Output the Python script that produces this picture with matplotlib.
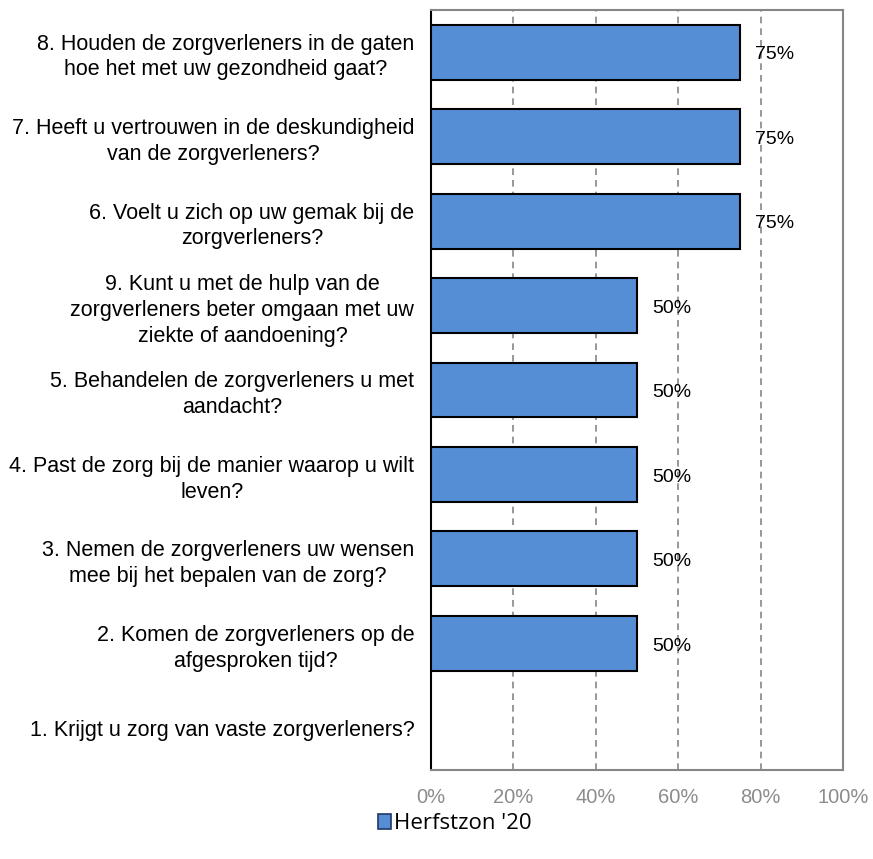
import matplotlib
matplotlib.use('Agg')
import matplotlib.pyplot as plt
from matplotlib.patches import Patch
from matplotlib.ticker import FuncFormatter

# Questions from top to bottom, with share of positive answers
questions = [
    "8. Houden de zorgverleners in de gaten\nhoe het met uw gezondheid gaat?",
    "7. Heeft u vertrouwen in de deskundigheid\nvan de zorgverleners?",
    "6. Voelt u zich op uw gemak bij de\nzorgverleners?",
    "9. Kunt u met de hulp van de\nzorgverleners beter omgaan met uw\nziekte of aandoening?",
    "5. Behandelen de zorgverleners u met\naandacht?",
    "4. Past de zorg bij de manier waarop u wilt\nleven?",
    "3. Nemen de zorgverleners uw wensen\nmee bij het bepalen van de zorg?",
    "2. Komen de zorgverleners op de\nafgesproken tijd?",
    "1. Krijgt u zorg van vaste zorgverleners?",
]
scores = [75, 75, 75, 50, 50, 50, 50, 50, None]
series_name = "Herfstzon '20"
x_ticks = [0, 20, 40, 60, 80, 100]

BAR_COLOR = '#558ED5'
GRID_COLOR = '#868686'

plt.rcParams['font.family'] = ['Liberation Sans', 'DejaVu Sans']

fig = plt.figure(figsize=(8.73, 8.59), dpi=100)
ax = fig.add_axes([0.4937, 0.1036, 0.472, 0.8848])

n = len(questions)
ypos = list(range(n))[::-1]
for y, v in zip(ypos, scores):
    if v is None:
        continue
    ax.barh(y, v, height=0.65, color=BAR_COLOR, edgecolor='black', linewidth=1.5, zorder=3)
    ax.annotate(f"{v}%", xy=(v, y), xytext=(11, -2), textcoords='offset points',
                va='center', ha='left', fontsize=14, color='black', zorder=4)

ax.set_xlim(0, 100)
ax.set_ylim(-0.5, n - 0.5)
ax.set_xticks(x_ticks)
ax.xaxis.set_major_formatter(FuncFormatter(lambda v, _: f"{v:.0f}%"))
ax.tick_params(axis='x', length=0, pad=13, labelsize=14.5, labelcolor='#8c8c8c')
ax.set_yticks(ypos)
ax.set_yticklabels(questions, fontsize=15.5, linespacing=1.3, multialignment='center')
ax.tick_params(axis='y', length=0, pad=12)

ax.grid(axis='x', linestyle=(0, (4, 3)), color=GRID_COLOR, linewidth=1.2, zorder=0)
for side in ('top', 'right', 'bottom'):
    ax.spines[side].set_color(GRID_COLOR)
    ax.spines[side].set_linewidth(1.5)
ax.spines['left'].set_color('black')
ax.spines['left'].set_linewidth(1.5)

handle = Patch(facecolor=BAR_COLOR, edgecolor='#1f3864', linewidth=1.2, label=series_name)
fig.legend(handles=[handle], loc='center', bbox_to_anchor=(0.521, 0.041), frameon=False,
           handlelength=0.6, handleheight=0.6, handletextpad=0.15,
           prop={'family': 'Open Sans', 'size': 16})

fig.savefig('out.png', dpi=100)
